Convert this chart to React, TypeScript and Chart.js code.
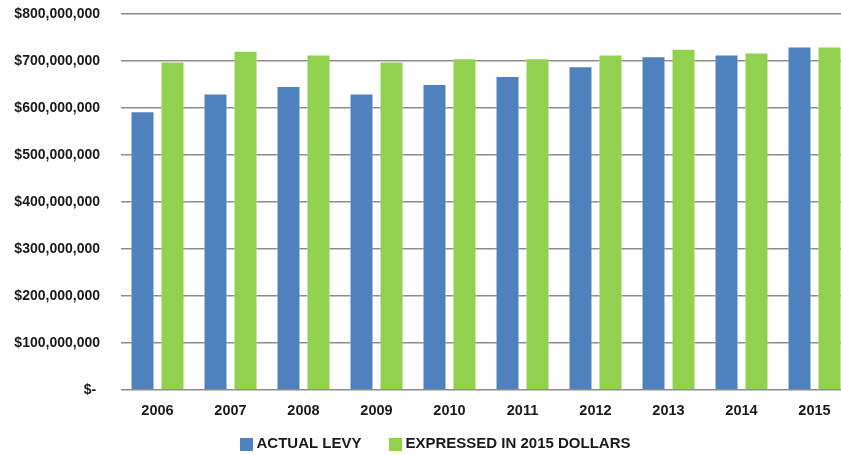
import React, { useEffect, useRef } from "react";
import { Chart, registerables } from "chart.js";

Chart.register(...registerables);

const years = ["2006", "2007", "2008", "2009", "2010", "2011", "2012", "2013", "2014", "2015"];
const actualLevy = [593000000, 631000000, 647000000, 631000000, 651000000, 668000000, 689000000, 710000000, 714000000, 731000000];
const expressedIn2015 = [699000000, 722000000, 714000000, 699000000, 706000000, 706000000, 714000000, 726000000, 718000000, 731000000];
const seriesNames = ["ACTUAL LEVY", "EXPRESSED IN 2015 DOLLARS"];
const seriesColors = ["#4F81BD", "#92D050"];

const FONT = "'Liberation Sans', Arial, sans-serif";

function swatch(color: string) {
  const c = document.createElement("canvas");
  c.width = 13;
  c.height = 13;
  const g = c.getContext("2d");
  if (g) {
    g.fillStyle = color;
    g.fillRect(0, 0, 13, 13);
  }
  return c;
}

const legendFix = {
  id: "legendFix",
  beforeInit(chart: any) {
    const lg = chart.legend;
    if (!lg) return;
    const fit = lg.fit.bind(lg);
    lg.fit = () => {
      fit();
      lg.height = 30;
    };
  },
  afterLayout(chart: any) {
    const lg = chart.legend;
    if (!lg) return;
    lg.top = 404;
    lg.bottom = 455;
    lg.height = 51;
    lg.left += 12.25;
    lg.right += 12.25;
  },
};

export default function App() {
  const ref = useRef<HTMLCanvasElement | null>(null);
  useEffect(() => {
    document.body.style.margin = "0";
    document.body.style.overflow = "hidden";
    document.documentElement.style.overflow = "hidden";
    const canvas = ref.current;
    if (!canvas) return;
    const swatches = seriesColors.map(swatch);
    const chart = new Chart(canvas, {
      type: "bar",
      data: {
        labels: years,
        datasets: [
          {
            label: seriesNames[0],
            data: actualLevy,
            backgroundColor: seriesColors[0],
            borderColor: "rgba(255,255,255,0.45)",
            borderWidth: 1,
          },
          {
            label: seriesNames[1],
            data: expressedIn2015,
            backgroundColor: seriesColors[1],
            borderColor: "rgba(255,255,255,0.45)",
            borderWidth: 1,
          },
        ],
      },
      options: {
        responsive: false,
        animation: false,
        layout: { padding: { top: 14, right: 0, bottom: 0, left: 0 } },
        datasets: {
          bar: { categoryPercentage: 0.822, barPercentage: 0.8 },
        },
        plugins: {
          tooltip: { enabled: false },
          legend: {
            position: "bottom",
            labels: {
              usePointStyle: true,
              boxWidth: 4,
              boxHeight: 13,
              padding: 32.5,
              color: "#1a1a1a",
              font: { family: FONT, size: 15, weight: "bold" },
              generateLabels: (ch: any) =>
                Chart.defaults.plugins.legend.labels
                  .generateLabels(ch)
                  .map((it: any, i: number) => ({ ...it, pointStyle: swatches[i] })),
            },
          },
        },
        scales: {
          x: {
            grid: { display: false, drawTicks: false },
            border: { display: false },
            ticks: {
              color: "#1a1a1a",
              padding: 12,
              font: { family: FONT, size: 14.5, weight: "bold" },
            },
            afterFit: (s: any) => {
              s.height = 35;
            },
          },
          y: {
            min: 0,
            max: 800000000,
            grid: {
              color: "#8c8c8c",
              lineWidth: 1.5,
              drawTicks: true,
              tickLength: 21,
              tickColor: "rgba(0,0,0,0)",
            },
            border: { display: false },
            ticks: {
              stepSize: 100000000,
              color: "#1a1a1a",
              padding: 0,
              font: { family: FONT, size: 14, weight: "bold" },
              callback: (v: any) => (Number(v) === 0 ? "$- " : "$" + Number(v).toLocaleString("en-US")),
            },
            afterFit: (s: any) => {
              s.width = 121;
            },
          },
        },
      },
      plugins: [legendFix],
    });
    return () => chart.destroy();
  }, []);
  return <canvas ref={ref} width={851} height={455} style={{ display: "block" }} />;
}
